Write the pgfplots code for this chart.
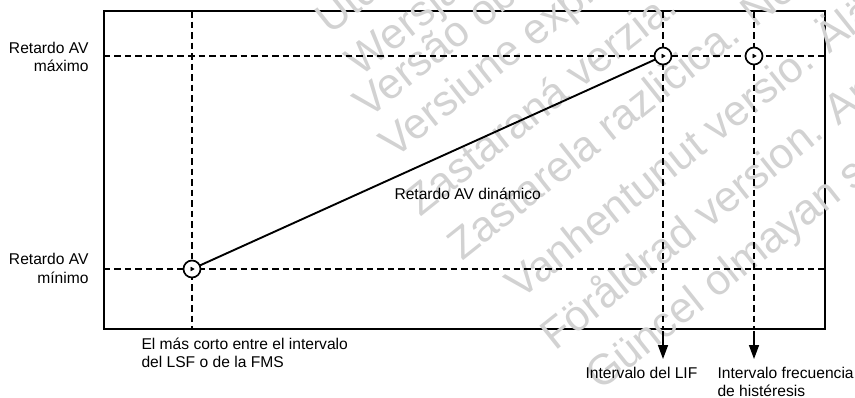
\documentclass[border=0pt]{standalone}
\usepackage{fontspec}
\setmainfont{Liberation Sans}
\usepackage{pgfplots}
\pgfplotsset{compat=1.18}
\usetikzlibrary{arrows.meta}
\definecolor{wm}{RGB}{210,210,210}

\begin{document}
\begin{tikzpicture}[font=\fontsize{15.6bp}{18bp}\selectfont,
  wmark/.style={anchor=base west, rotate=38.5, text=wm, inner sep=0pt,
    font=\fontsize{43bp}{46bp}\selectfont},
  guide/.style={black, line width=1.5bp, dash pattern=on 6.5bp off 4bp}]
\begin{axis}[scale only axis, width=721bp, height=318bp,
  xmin=104, xmax=825, ymin=11, ymax=329, y dir=reverse,
  xtick=\empty, ytick=\empty, clip=false,
  axis line style={line width=2.6bp}]
 % watermark, behind everything
 \node[wmark] at (axis cs:330,36) {Utdatert versjon. Skal ikke brukes.};
 \node[wmark] at (axis cs:360,78) {Wersja przeterminowana. Nie używać.};
 \node[wmark] at (axis cs:368,120) {Versão obsoleta. Não utilize.};
 \node[wmark] at (axis cs:394,160) {Versiune expirată. A nu se utiliza.};
 \node[wmark] at (axis cs:420,218) {Zastaraná verzia. Nepoužívať.};
 \node[wmark] at (axis cs:462,262) {Zastarela različica. Ne uporabite.};
 \node[wmark] at (axis cs:520,301) {Vanhentunut versio. Älä käytä.};
 \node[wmark] at (axis cs:555,352) {Föråldrad version. Använd ej.};
 \node[wmark] at (axis cs:600,392) {Güncel olmayan sürüm. Kullanmayın.};

 % dashed guides
 \addplot[guide] coordinates {(104,56) (825,56)};
 \addplot[guide] coordinates {(104,269) (825,269)};
 \addplot[guide] coordinates {(192,11) (192,329)};
 \addplot[guide] coordinates {(663,11) (663,329)};
 \addplot[guide] coordinates {(754,11) (754,329)};

 % dynamic AV delay
 \addplot[black, line width=1.9bp] coordinates {(192,269) (663,56)};
 \addplot[only marks, mark=*, mark size=8.5bp,
   mark options={fill=white, draw=black, line width=1.7bp}]
   coordinates {(192,269) (663,56) (754,56)};
 \addplot[only marks, mark=triangle*, mark size=2.2bp,
   mark options={rotate=-90, fill=black}]
   coordinates {(192,269) (663,56) (754,56)};

 % arrows below the box
 \addplot[black, line width=1.5bp, -{Triangle[length=14bp,width=10bp]}]
   coordinates {(663,331) (663,359)};
 \addplot[black, line width=1.5bp, -{Triangle[length=14bp,width=10bp]}]
   coordinates {(754,331) (754,359)};

 % labels
 \node[anchor=base east] at (axis cs:92,53) {Retardo AV};
 \node[anchor=base east] at (axis cs:92,71) {máximo};
 \node[anchor=base east] at (axis cs:92,264) {Retardo AV};
 \node[anchor=base east] at (axis cs:92,283) {mínimo};
 \node[anchor=base west] at (axis cs:391,199) {Retardo AV dinámico};
 \node[anchor=base west] at (axis cs:138,349) {El más corto entre el intervalo};
 \node[anchor=base west] at (axis cs:138,367) {del LSF o de la FMS};
 \node[anchor=base west] at (axis cs:582,378) {Intervalo del LIF};
 \node[anchor=base west] at (axis cs:714,378) {Intervalo frecuencia};
 \node[anchor=base west] at (axis cs:714,396) {de histéresis};

 \coordinate (bl) at (axis cs:0,398);
 \coordinate (tr) at (axis cs:855,0);
\end{axis}
\pgfresetboundingbox
\path[use as bounding box] (bl) rectangle (tr);
\end{tikzpicture}
\end{document}
